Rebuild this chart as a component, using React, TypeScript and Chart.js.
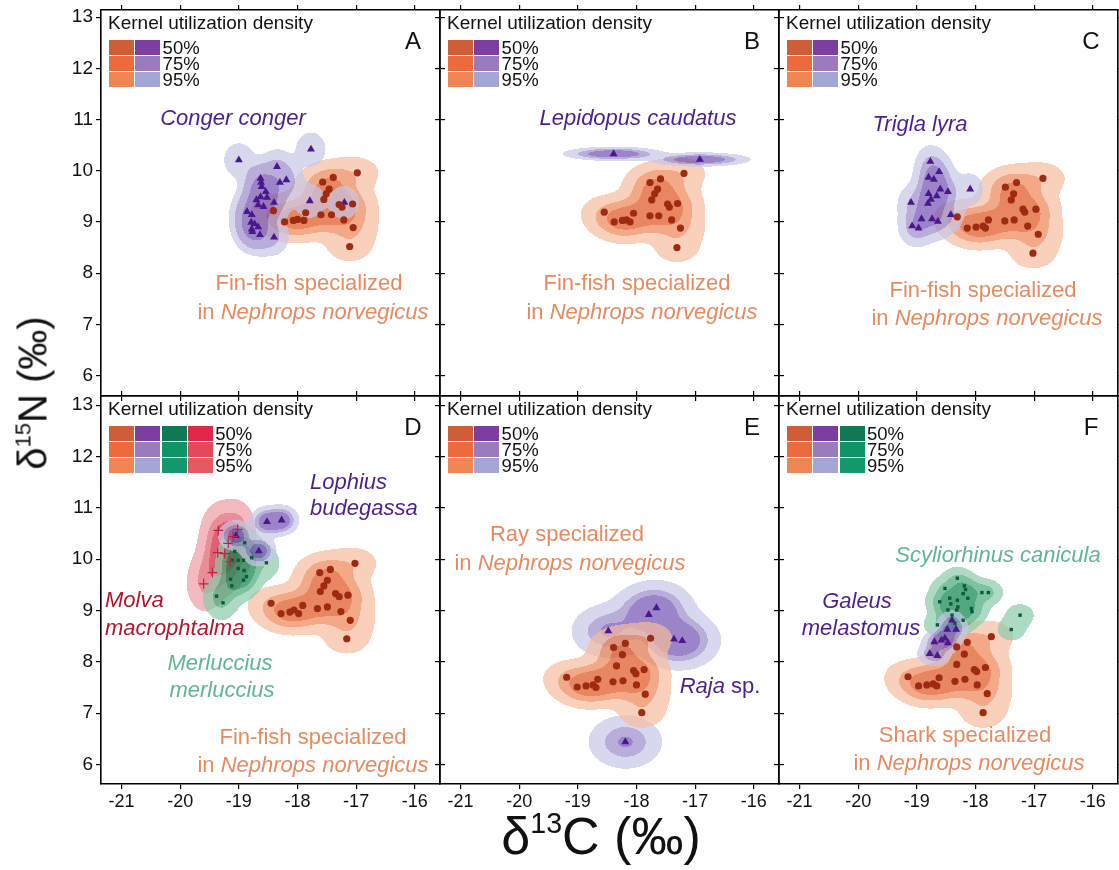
import React, { useEffect, useRef } from "react";
import { Chart, registerables } from "chart.js";
Chart.register(...registerables);

const FONT = '"Liberation Sans", Arial, Helvetica, sans-serif';

// ---------- axes ----------
const X_TICKS = [-21, -20, -19, -18, -17, -16];
const Y_TICKS = [6, 7, 8, 9, 10, 11, 12, 13];
const X_MIN = -21.35;
const X_MAX = -15.57;
const Y_RANGE_TOP = [5.6, 13.14];
const Y_RANGE_BOTTOM = [5.62, 13.18];
const LEVEL_LABELS = ["50%", "75%", "95%"];
const LEVEL_PROBS = [0.5, 0.75, 0.95];

// ---------- data ----------
// Panel A
const A_FINFISH_X = [-16.98, -17.57, -17.39, -17.46, -17.51, -17.55, -18.41, -18.22, -18.07, -18.0, -17.89, -17.86, -17.6, -17.42, -17.29, -17.24, -17.06, -17.21, -17.05, -17.11];
const A_FINFISH_Y = [9.96, 9.78, 9.87, 9.64, 9.55, 9.44, 9.22, 9.0, 9.03, 9.05, 9.03, 9.18, 9.14, 9.14, 9.34, 9.29, 9.35, 9.04, 8.89, 8.52];
const A_CONGER_X = [-19.0, -17.77, -18.35, -18.63, -18.62, -18.3, -18.19, -18.61, -18.54, -18.63, -18.52, -18.7, -18.67, -18.58, -18.4, -17.79, -18.86, -18.78, -18.79, -18.73, -18.78, -18.67, -18.64, -18.4, -17.2, -18.77];
const A_CONGER_Y = [10.21, 10.42, 10.08, 9.85, 9.77, 9.77, 9.82, 9.69, 9.59, 9.49, 9.48, 9.43, 9.33, 9.3, 9.38, 9.41, 9.2, 9.14, 8.99, 8.96, 8.86, 8.9, 8.75, 8.7, 9.38, 8.81];
// Panel B
const B_FINFISH_X = [-17.19, -17.77, -17.59, -17.64, -17.69, -17.74, -18.55, -18.38, -18.24, -18.17, -18.11, -18.05, -17.77, -17.62, -17.47, -17.44, -17.3, -17.4, -17.25, -17.31];
const B_FINFISH_Y = [9.95, 9.77, 9.84, 9.64, 9.55, 9.43, 9.19, 9.0, 9.03, 9.04, 9.0, 9.17, 9.12, 9.12, 9.35, 9.29, 9.36, 9.04, 8.88, 8.5];
const B_LEPIDOPUS_X = [-18.39, -16.92];
const B_LEPIDOPUS_Y = [10.33, 10.22];
// Panel C
const C_FINFISH_X = [-16.85, -17.49, -17.3, -17.35, -17.39, -17.19, -17.16, -16.97, -18.31, -18.14, -17.99, -17.87, -17.83, -17.78, -17.5, -17.34, -17.11, -16.93, -17.02];
const C_FINFISH_Y = [9.85, 9.68, 9.77, 9.55, 9.43, 9.25, 9.19, 9.25, 9.1, 8.88, 8.9, 8.92, 8.88, 9.04, 9.02, 9.04, 8.92, 8.76, 8.39];
const C_TRIGLA_X = [-18.77, -18.62, -18.8, -18.71, -18.6, -18.47, -18.8, -18.66, -18.76, -18.81, -19.1, -18.09, -18.42, -18.92, -18.74, -18.64, -19.08, -18.97];
const C_TRIGLA_Y = [10.18, 9.98, 9.87, 9.83, 9.64, 9.59, 9.55, 9.51, 9.44, 9.36, 9.38, 9.64, 9.14, 9.06, 9.06, 9.01, 8.92, 8.88];
// Panel D
const D_FINFISH_X = [-17.02, -17.62, -17.44, -17.49, -17.55, -17.61, -18.45, -18.28, -18.13, -18.06, -17.98, -17.91, -17.66, -17.49, -17.35, -17.29, -17.14, -17.26, -17.1, -17.16];
const D_FINFISH_Y = [9.92, 9.74, 9.8, 9.59, 9.48, 9.37, 9.14, 8.94, 8.97, 9.01, 8.94, 9.1, 9.04, 9.07, 9.33, 9.27, 9.3, 8.98, 8.81, 8.45];
const D_LOPHIUS_X = [-18.52, -18.27, -19.05, -18.66];
const D_LOPHIUS_Y = [10.73, 10.76, 10.46, 10.16];
const D_MOLVA_X = [-19.35, -19.02, -19.1, -19.18, -19.36, -19.24, -19.15, -19.45, -19.6];
const D_MOLVA_Y = [10.56, 10.58, 10.44, 10.31, 10.13, 10.11, 9.95, 9.74, 9.52];
const D_MERLUCCIUS_X = [-18.9, -19.07, -19.11, -19.01, -18.92, -18.78, -19.01, -18.91, -18.87, -19.14, -19.12, -18.92, -19.38, -19.27, -18.53];
const D_MERLUCCIUS_Y = [10.32, 10.15, 9.98, 9.98, 9.98, 10.03, 9.82, 9.78, 9.66, 9.61, 9.48, 9.59, 9.28, 9.15, 9.93];
// Panel E
const E_RAY_X = [-17.76, -18.19, -18.39, -18.24, -18.34, -18.05, -18.01, -17.87, -19.19, -18.66, -19.01, -18.86, -18.74, -18.69, -18.4, -18.23, -18.0, -17.85, -17.91];
const E_RAY_Y = [8.46, 8.36, 8.28, 8.14, 7.92, 7.83, 7.77, 7.85, 7.7, 7.66, 7.51, 7.53, 7.55, 7.5, 7.61, 7.63, 7.55, 7.37, 7.01];
const E_RAJA_X = [-17.66, -17.79, -18.48, -17.36, -17.22, -18.19];
const E_RAJA_Y = [9.05, 8.92, 8.6, 8.44, 8.41, 6.44];
// Panel F
const F_SHARK_X = [-17.73, -18.14, -18.32, -18.19, -18.32, -18.02, -17.98, -17.83, -19.15, -18.62, -18.97, -18.83, -18.72, -18.66, -18.35, -18.18, -17.97, -17.8, -17.87];
const F_SHARK_Y = [8.49, 8.38, 8.29, 8.15, 7.95, 7.85, 7.81, 7.89, 7.71, 7.69, 7.53, 7.55, 7.57, 7.53, 7.62, 7.66, 7.55, 7.38, 7.01];
const F_SCYLIORHINUS_X = [-18.31, -18.52, -18.19, -18.17, -18.21, -17.89, -17.78, -18.44, -18.31, -18.13, -18.61, -18.42, -18.3, -18.47, -18.32, -18.07, -18.06, -18.4, -18.21, -18.35, -18.65, -17.24, -17.39];
const F_SCYLIORHINUS_Y = [9.63, 9.43, 9.48, 9.41, 9.33, 9.35, 9.35, 9.24, 9.2, 9.24, 9.17, 9.13, 9.07, 9.01, 9.01, 9.04, 8.98, 8.91, 8.81, 8.75, 8.72, 8.91, 8.63];
const F_GALEUS_X = [-18.4, -18.48, -18.33, -18.7, -18.58, -18.52, -18.47, -18.78, -18.65];
const F_GALEUS_Y = [8.81, 8.63, 8.63, 8.39, 8.42, 8.46, 8.37, 8.16, 8.12];

// ---------- styles ----------
type Kind = "orange" | "purple" | "green" | "red";
// fill colours for 95%, 75%, 50% isopleths (drawn with alpha)
const KDE_FILL: Record<Kind, number[][]> = {
  orange: [[246, 188, 158], [238, 132, 84], [222, 82, 32]],
  purple: [[198, 198, 229], [154, 140, 201], [112, 80, 176]],
  green: [[140, 201, 168], [70, 170, 118], [8, 132, 74]],
  red: [[237, 156, 162], [226, 93, 106], [209, 29, 56]],
};
const KDE_ALPHA = 0.7;
// legend swatches 50%, 75%, 95%
const SWATCH: Record<Kind, string[]> = {
  orange: ["#cf5d37", "#ec6a3b", "#ef8552"],
  purple: ["#7c3fa0", "#9a7cbd", "#a3a6d4"],
  green: ["#117a55", "#0f9468", "#14996c"],
  red: ["#e0294a", "#e4495a", "#e45a60"],
};
const TEXT_COLOR: Record<Kind, string> = {
  orange: "#e88a5f",
  purple: "#4c1f8f",
  green: "#5fb690",
  red: "#b3152f",
};
const POINT_STYLE: Record<Kind, any> = {
  orange: { pointStyle: "circle", pointRadius: 3.6, pointBackgroundColor: "#9e2a12", pointBorderWidth: 0 },
  purple: { pointStyle: "triangle", pointRadius: 4.6, pointBackgroundColor: "#4a178f", pointBorderWidth: 0 },
  green: { pointStyle: "rect", pointRadius: 2.4, pointBackgroundColor: "#0a5c38", pointBorderWidth: 0 },
  red: { pointStyle: "cross", pointRadius: 5, pointBorderColor: "#c42042", pointBorderWidth: 1.2 },
};

// Gaussian kernel bandwidths (data units): hx along δ13C, hy along δ15N
interface Group { kind: Kind; xs: number[]; ys: number[]; hx: number; hy: number }
interface Seg { t: string; i?: boolean }
interface Label { segs: Seg[]; x: number; y: number; kind: Kind; align?: "left" | "center" }
interface PanelDef { letter: string; col: number; row: number; groups: Group[]; legend: Kind[]; labels: Label[] }

const NEPH: Seg[] = [{ t: "in " }, { t: "Nephrops norvegicus", i: true }];

const PANELS: PanelDef[] = [
  {
    letter: "A", col: 0, row: 0, legend: ["orange", "purple"],
    groups: [
      { kind: "orange", xs: A_FINFISH_X, ys: A_FINFISH_Y, hx: 0.26, hy: 0.21 },
      { kind: "purple", xs: A_CONGER_X, ys: A_CONGER_Y, hx: 0.16, hy: 0.21 },
    ],
    labels: [
      { segs: [{ t: "Conger conger", i: true }], x: 233, y: 118, kind: "purple" },
      { segs: [{ t: "Fin-fish specialized" }], x: 309, y: 283, kind: "orange" },
      { segs: NEPH, x: 313, y: 312, kind: "orange" },
    ],
  },
  {
    letter: "B", col: 1, row: 0, legend: ["orange", "purple"],
    groups: [
      { kind: "orange", xs: B_FINFISH_X, ys: B_FINFISH_Y, hx: 0.26, hy: 0.21 },
      { kind: "purple", xs: B_LEPIDOPUS_X, ys: B_LEPIDOPUS_Y, hx: 0.37, hy: 0.06 },
    ],
    labels: [
      { segs: [{ t: "Lepidopus caudatus", i: true }], x: 638, y: 118, kind: "purple" },
      { segs: [{ t: "Fin-fish specialized" }], x: 637, y: 283, kind: "orange" },
      { segs: NEPH, x: 642, y: 312, kind: "orange" },
    ],
  },
  {
    letter: "C", col: 2, row: 0, legend: ["orange", "purple"],
    groups: [
      { kind: "orange", xs: C_FINFISH_X, ys: C_FINFISH_Y, hx: 0.26, hy: 0.21 },
      { kind: "purple", xs: C_TRIGLA_X, ys: C_TRIGLA_Y, hx: 0.15, hy: 0.21 },
    ],
    labels: [
      { segs: [{ t: "Trigla lyra", i: true }], x: 920, y: 124, kind: "purple" },
      { segs: [{ t: "Fin-fish specialized" }], x: 983, y: 290, kind: "orange" },
      { segs: NEPH, x: 987, y: 318, kind: "orange" },
    ],
  },
  {
    letter: "D", col: 0, row: 1, legend: ["orange", "purple", "green", "red"],
    groups: [
      { kind: "orange", xs: D_FINFISH_X, ys: D_FINFISH_Y, hx: 0.26, hy: 0.21 },
      { kind: "red", xs: D_MOLVA_X, ys: D_MOLVA_Y, hx: 0.17, hy: 0.31 },
      { kind: "green", xs: D_MERLUCCIUS_X, ys: D_MERLUCCIUS_Y, hx: 0.15, hy: 0.21 },
      { kind: "purple", xs: D_LOPHIUS_X, ys: D_LOPHIUS_Y, hx: 0.14, hy: 0.14 },
    ],
    labels: [
      { segs: [{ t: "Lophius", i: true }], x: 310, y: 482, kind: "purple", align: "left" },
      { segs: [{ t: "budegassa", i: true }], x: 310, y: 508, kind: "purple", align: "left" },
      { segs: [{ t: "Molva", i: true }], x: 105, y: 600, kind: "red", align: "left" },
      { segs: [{ t: "macrophtalma", i: true }], x: 105, y: 628, kind: "red", align: "left" },
      { segs: [{ t: "Merluccius", i: true }], x: 220, y: 663, kind: "green" },
      { segs: [{ t: "merluccius", i: true }], x: 222, y: 690, kind: "green" },
      { segs: [{ t: "Fin-fish specialized" }], x: 313, y: 737, kind: "orange" },
      { segs: NEPH, x: 313, y: 765, kind: "orange" },
    ],
  },
  {
    letter: "E", col: 1, row: 1, legend: ["orange", "purple"],
    groups: [
      { kind: "purple", xs: E_RAJA_X, ys: E_RAJA_Y, hx: 0.3, hy: 0.25 },
      { kind: "orange", xs: E_RAY_X, ys: E_RAY_Y, hx: 0.26, hy: 0.21 },
    ],
    labels: [
      { segs: [{ t: "Ray specialized" }], x: 567, y: 534, kind: "orange" },
      { segs: NEPH, x: 570, y: 563, kind: "orange" },
      { segs: [{ t: "Raja", i: true }, { t: " sp." }], x: 720, y: 686, kind: "purple" },
    ],
  },
  {
    letter: "F", col: 2, row: 1, legend: ["orange", "purple", "green"],
    groups: [
      { kind: "orange", xs: F_SHARK_X, ys: F_SHARK_Y, hx: 0.26, hy: 0.21 },
      { kind: "green", xs: F_SCYLIORHINUS_X, ys: F_SCYLIORHINUS_Y, hx: 0.15, hy: 0.14 },
      { kind: "purple", xs: F_GALEUS_X, ys: F_GALEUS_Y, hx: 0.12, hy: 0.11 },
    ],
    labels: [
      { segs: [{ t: "Scyliorhinus canicula", i: true }], x: 998, y: 555, kind: "green" },
      { segs: [{ t: "Galeus", i: true }], x: 857, y: 601, kind: "purple" },
      { segs: [{ t: "melastomus", i: true }], x: 861, y: 628, kind: "purple" },
      { segs: [{ t: "Shark specialized" }], x: 965, y: 735, kind: "orange" },
      { segs: NEPH, x: 969, y: 763, kind: "orange" },
    ],
  },
];

// ---------- geometry ----------
const PANEL_W = 339;
const colLeft = (c: number) => 101 + PANEL_W * c;
const rowTop = (r: number) => (r === 0 ? 10 : 396);
const rowHeight = (r: number) => (r === 0 ? 386 : 388);
const ML = 48, MR = 8, MT = 18, MB = 32;

// ---------- kernel density (Gaussian), isopleths by volume ----------
function kdeLevels(g: Group, gx: Float64Array, gy: Float64Array) {
  const W = gx.length, H = gy.length;
  const dens = new Float64Array(W * H);
  const kx = new Float64Array(W);
  for (let p = 0; p < g.xs.length; p++) {
    let i0 = W, i1 = -1;
    for (let i = 0; i < W; i++) {
      const u = (gx[i] - g.xs[p]) / g.hx;
      const v = u * u < 50 ? Math.exp(-0.5 * u * u) : 0;
      kx[i] = v;
      if (v > 0) { if (i < i0) i0 = i; i1 = i; }
    }
    for (let j = 0; j < H; j++) {
      const u = (gy[j] - g.ys[p]) / g.hy;
      if (u * u >= 50) continue;
      const w = Math.exp(-0.5 * u * u);
      const row = j * W;
      for (let i = i0; i <= i1; i++) dens[row + i] += w * kx[i];
    }
  }
  const sorted = Float64Array.from(dens).sort();
  let total = 0;
  for (let k = 0; k < sorted.length; k++) total += sorted[k];
  const th = [0, 0, 0];
  let cum = 0, t = 0;
  for (let k = sorted.length - 1; k >= 0 && t < 3; k--) {
    cum += sorted[k];
    while (t < 3 && cum >= LEVEL_PROBS[t] * total) { th[t] = sorted[k]; t++; }
  }
  return { dens, th };
}

function makeKdePlugin(groups: Group[]) {
  return {
    id: "kde",
    beforeDatasetsDraw(chart: any) {
      const { ctx, chartArea: a, scales } = chart;
      const xs = scales.x, ys = scales.y;
      const W = Math.round(a.right - a.left), H = Math.round(a.bottom - a.top);
      const gx = new Float64Array(W), gy = new Float64Array(H);
      for (let i = 0; i < W; i++) gx[i] = xs.getValueForPixel(a.left + i + 0.5);
      for (let j = 0; j < H; j++) gy[j] = ys.getValueForPixel(a.top + j + 0.5);
      const off = document.createElement("canvas");
      off.width = W; off.height = H;
      const octx = off.getContext("2d")!;
      const A = Math.round(KDE_ALPHA * 255);
      for (const g of groups) {
        const { dens, th } = kdeLevels(g, gx, gy);
        const cols = KDE_FILL[g.kind];
        const img = octx.createImageData(W, H);
        const d = img.data;
        for (let k = 0; k < dens.length; k++) {
          const v = dens[k];
          let c: number[] | null = null;
          if (v >= th[0]) c = cols[2];
          else if (v >= th[1]) c = cols[1];
          else if (v >= th[2]) c = cols[0];
          if (c) { d[4 * k] = c[0]; d[4 * k + 1] = c[1]; d[4 * k + 2] = c[2]; d[4 * k + 3] = A; }
        }
        octx.putImageData(img, 0, 0);
        ctx.drawImage(off, a.left, a.top);
      }
    },
  };
}

function axisOpts(pos: string, min: number, max: number, ticks: number[], show: boolean, size: number, fontSize: number) {
  const vertical = pos === "left" || pos === "right";
  return {
    type: "linear",
    axis: vertical ? "y" : "x",
    position: pos,
    min, max,
    afterBuildTicks: (s: any) => { s.ticks = ticks.map((v) => ({ value: v })); },
    afterFit: (s: any) => { if (vertical) s.width = size; else s.height = size; },
    ticks: {
      display: show, autoSkip: false, maxRotation: 0, padding: vertical ? 3 : 2,
      color: "#111", font: { family: FONT, size: fontSize },
      callback: (v: any) => String(v),
    },
    grid: { display: true, drawOnChartArea: false, drawTicks: true, tickLength: 5, color: "#000", lineWidth: 1.2 },
    border: { display: true, color: "#000", width: 1.6 },
  };
}

function Panel({ p }: { p: PanelDef }) {
  const ref = useRef<HTMLCanvasElement>(null);
  const L = colLeft(p.col), T = rowTop(p.row), H = rowHeight(p.row);
  const cw = ML + PANEL_W + MR, ch = MT + H + MB;
  useEffect(() => {
    const yr = p.row === 0 ? Y_RANGE_TOP : Y_RANGE_BOTTOM;
    const datasets = p.groups.map((g) => ({
      data: g.xs.map((x, i) => ({ x, y: g.ys[i] })),
      ...POINT_STYLE[g.kind],
    }));
    const chart = new Chart(ref.current!, {
      type: "scatter",
      data: { datasets } as any,
      options: {
        responsive: false,
        animation: false,
        events: [],
        layout: { padding: 0, autoPadding: false } as any,
        plugins: { legend: { display: false }, tooltip: { enabled: false } },
        scales: {
          x: axisOpts("bottom", X_MIN, X_MAX, X_TICKS, p.row === 1, MB, 18),
          x2: axisOpts("top", X_MIN, X_MAX, X_TICKS, false, MT, 18),
          y: axisOpts("left", yr[0], yr[1], Y_TICKS, p.col === 0, ML, 19),
          y2: axisOpts("right", yr[0], yr[1], Y_TICKS, false, MR, 19),
        } as any,
      },
      plugins: [makeKdePlugin(p.groups)],
    } as any);
    return () => chart.destroy();
  }, []);
  return (
    <canvas ref={ref} width={cw} height={ch}
      style={{ position: "absolute", left: L - ML, top: T - MT, width: cw, height: ch }} />
  );
}

function TextLabel({ l }: { l: Label }) {
  const tx = l.align === "left" ? "translate(0,-50%)" : "translate(-50%,-50%)";
  return (
    <div style={{ position: "absolute", left: l.x, top: l.y, transform: tx, whiteSpace: "nowrap",
      fontSize: 22, lineHeight: "22px", color: TEXT_COLOR[l.kind], fontFamily: FONT }}>
      {l.segs.map((s, i) => <span key={i} style={{ fontStyle: s.i ? "italic" : "normal" }}>{s.t}</span>)}
    </div>
  );
}

function Legend({ p }: { p: PanelDef }) {
  const L = colLeft(p.col), T = rowTop(p.row);
  const n = p.legend.length;
  const items: any[] = [];
  for (let r = 0; r < 3; r++) {
    p.legend.forEach((k, c) => {
      items.push(<div key={`s${r}-${c}`} style={{ position: "absolute", left: L + 8 + c * 26.3, top: T + 30 + r * 16, width: 25, height: 15, background: SWATCH[k][r] }} />);
    });
    items.push(<div key={`l${r}`} style={{ position: "absolute", left: L + 9 + n * 26.3, top: T + 30 + r * 16 + 7.5, transform: "translate(0,-50%)", fontSize: 18.5, lineHeight: "16px", color: "#111", whiteSpace: "nowrap" }}>{LEVEL_LABELS[r]}</div>);
  }
  return (
    <>
      <div style={{ position: "absolute", left: L + 7, top: T + 13, transform: "translate(0,-50%)", fontSize: 19, lineHeight: "20px", color: "#111", whiteSpace: "nowrap" }}>Kernel utilization density</div>
      {items}
      <div style={{ position: "absolute", left: L + 312, top: T + 31, transform: "translate(-50%,-50%)", fontSize: 24, lineHeight: "24px", color: "#111" }}>{p.letter}</div>
    </>
  );
}

export default function App() {
  return (
    <div style={{ position: "absolute", left: 0, top: 0, width: 1119, height: 870, background: "#fff", overflow: "hidden", fontFamily: FONT }}>
      {PANELS.map((p) => <Panel key={p.letter} p={p} />)}
      {PANELS.map((p) => <Legend key={"lg" + p.letter} p={p} />)}
      {PANELS.map((p) => p.labels.map((l, i) => <TextLabel key={p.letter + i} l={l} />))}
      <div style={{ position: "absolute", left: 601, top: 840, transform: "translate(-50%,-50%)", fontSize: 52, lineHeight: "52px", color: "#111", whiteSpace: "nowrap" }}>
        δ<span style={{ fontSize: "0.55em", position: "relative", top: "-0.75em" }}>13</span>C (‰)
      </div>
      <div style={{ position: "absolute", left: 36, top: 393, transform: "translate(-50%,-50%) rotate(-90deg)", fontSize: 40, lineHeight: "40px", color: "#111", whiteSpace: "nowrap" }}>
        δ<span style={{ fontSize: "0.55em", position: "relative", top: "-0.75em" }}>15</span>N (‰)
      </div>
    </div>
  );
}
